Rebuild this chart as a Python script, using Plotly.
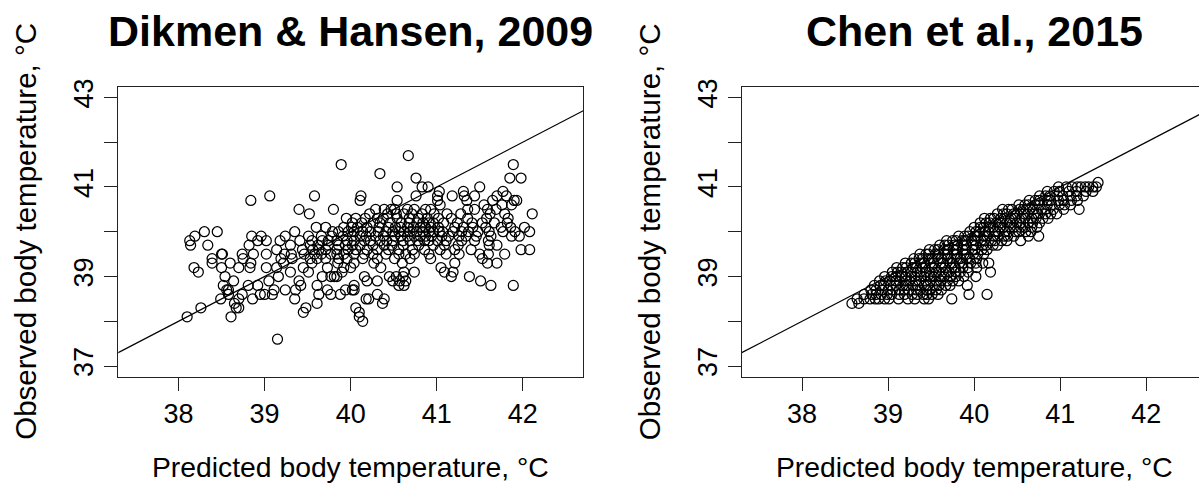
import plotly.graph_objects as go

W, H = 1199, 484
FONT = "Liberation Sans, Arial, Helvetica, sans-serif"

left_title = "Dikmen & Hansen, 2009"
right_title = "Chen et al., 2015"
x_label = "Predicted body temperature, °C"
y_label = "Observed body temperature, °C"
x_ticks = [38, 39, 40, 41, 42]
y_ticks = [37, 38, 39, 40, 41, 42, 43]
y_tick_text = ["37", "", "39", "", "41", "", "43"]

# Dikmen & Hansen 2009: observed levels and predicted values at each level
dh_obs_levels = [41.7, 41.5, 41.3, 41.2, 41.0, 40.9, 40.8, 40.7, 40.6, 40.5, 40.4, 40.3, 40.2, 40.1, 40.0,
                 39.9, 39.8, 39.7, 39.6, 39.5, 39.4, 39.3, 39.2, 39.1, 39.0, 38.9, 38.8, 38.7, 38.6, 38.5,
                 38.4, 38.3, 38.2, 38.1, 38.0, 37.6]
dh_pred_by_level = [
    [40.67],
    [39.89, 41.89],
    [40.34],
    [40.76, 41.85, 41.98],
    [40.54, 40.83, 40.90, 41.50],
    [41.03, 41.31, 41.77],
    [39.06, 39.58, 40.12, 40.76, 41.01, 41.18, 41.32, 41.44, 41.70, 41.81],
    [38.84, 40.11, 40.54, 41.01, 41.35, 41.65, 41.90, 41.93],
    [41.04, 41.55, 41.76, 41.87],
    [39.40, 39.80, 40.29, 40.39, 40.47, 40.51, 40.66, 40.74, 40.87, 40.93, 41.36, 41.44, 41.59, 41.69],
    [39.52, 40.22, 40.43, 40.53, 40.62, 40.71, 40.83, 40.97, 41.12, 41.28, 41.62, 41.79, 42.11],
    [39.95, 40.06, 40.17, 40.31, 40.38, 40.54, 40.68, 40.79, 40.89, 41.02, 41.17, 41.36, 41.58, 41.83],
    [40.02, 40.13, 40.26, 40.34, 40.46, 40.59, 40.68, 40.77, 40.84, 40.91, 40.96, 41.08, 41.24, 41.41,
     41.53, 41.67, 41.82],
    [39.60, 39.71, 39.92, 40.01, 40.08, 40.19, 40.33, 40.44, 40.52, 40.58, 40.66, 40.73, 40.81, 40.87,
     40.93, 41.02, 41.21, 41.31, 41.42, 41.57, 41.75, 41.86, 42.02],
    [38.30, 38.45, 39.35, 39.79, 39.86, 39.97, 40.04, 40.14, 40.23, 40.32, 40.41, 40.49, 40.56, 40.62,
     40.69, 40.77, 40.84, 40.91, 40.96, 41.03, 41.07, 41.19, 41.29, 41.37, 41.48, 41.61, 41.77, 41.91,
     42.08],
    [38.19, 38.85, 38.96, 39.24, 39.51, 39.66, 39.78, 39.91, 40.02, 40.11, 40.18, 40.29, 40.38, 40.51,
     40.58, 40.66, 40.74, 40.81, 40.87, 40.94, 41.06, 41.14, 41.26, 41.34, 41.46, 41.63, 41.87, 41.96],
    [38.13, 38.92, 39.02, 39.18, 39.41, 39.55, 39.67, 39.74, 39.84, 39.96, 40.04, 40.16, 40.23, 40.34,
     40.42, 40.49, 40.61, 40.69, 40.78, 40.86, 40.91, 41.01, 41.11, 41.29, 41.44, 41.60],
    [38.14, 38.34, 38.82, 39.30, 39.53, 39.62, 39.74, 39.86, 39.94, 40.02, 40.11, 40.26, 40.39, 40.48,
     40.61, 40.79, 40.96, 41.09, 41.25, 41.61, 41.70],
    [39.14, 39.44, 39.56, 39.63, 39.71, 39.84, 39.97, 40.06, 40.19, 40.31, 40.44, 40.56, 40.72, 40.86,
     41.04, 41.21, 41.40, 41.98, 42.08],
    [38.50, 38.51, 38.74, 38.87, 39.02, 39.23, 39.31, 39.46, 39.58, 39.66, 39.77, 39.84, 39.92, 40.04,
     40.16, 40.26, 40.41, 40.56, 40.64, 40.74, 40.91, 41.11, 41.26, 41.50, 41.60, 41.79],
    [38.39, 38.75, 39.19, 39.32, 39.53, 39.61, 39.71, 39.86, 39.96, 40.14, 40.31, 40.51, 40.69, 40.93,
     41.53],
    [38.39, 38.60, 38.84, 39.22, 39.55, 39.85, 40.04, 40.27, 40.60, 41.21, 41.59, 41.70],
    [38.18, 38.50, 38.70, 38.83, 39.02, 39.14, 39.45, 39.73, 39.92, 40.00, 40.35, 41.05],
    [38.23, 39.30, 39.51, 39.90, 40.62, 40.74, 41.09, 41.19],
    [38.54, 39.16, 39.67, 39.77, 39.81, 39.84, 40.16, 40.45, 40.53, 40.61, 41.17, 41.38],
    [38.64, 39.05, 39.40, 40.19, 40.31, 40.49, 40.57, 40.64, 41.51],
    [38.52, 38.81, 38.92, 39.42, 39.61, 40.04, 40.56, 40.62, 41.63, 41.89],
    [38.56, 38.58, 39.11, 39.24, 39.36, 39.73, 39.94, 40.02, 40.04],
    [38.58, 38.74, 38.95, 39.00, 39.09, 39.63, 39.77, 39.88, 40.31],
    [38.49, 38.70, 38.86, 39.35, 40.18, 40.21, 40.39],
    [38.65, 39.61, 40.37],
    [38.26, 38.67, 38.70, 39.48, 40.06],
    [39.45, 40.10],
    [38.10, 38.61, 40.10],
    [40.14],
    [39.15],
]

# Chen et al. 2015: observed levels and predicted values at each level
chen_obs_levels = [38.4, 38.5, 38.6, 38.7, 38.8, 38.9, 39.0, 39.1, 39.2, 39.3, 39.4, 39.5, 39.6, 39.7,
                   39.8, 39.9, 40.0, 40.1, 40.2, 40.3, 40.4, 40.5, 40.6, 40.7, 40.8, 40.9, 41.0, 41.1]
chen_pred_by_level = [
    [38.58, 38.66],
    [38.64, 38.72, 38.79, 38.85, 38.89, 38.96, 39.01, 39.12, 39.23, 39.31, 39.42, 39.47, 39.74],
    [38.72, 38.81, 38.86, 38.92, 38.99, 39.04, 39.13, 39.19, 39.28, 39.34, 39.41, 39.45, 39.51, 39.58, 39.94, 40.15],
    [38.80, 38.86, 38.93, 39.00, 39.05, 39.13, 39.19, 39.24, 39.33, 39.37, 39.45, 39.49, 39.56, 39.62],
    [38.84, 38.91, 38.95, 39.03, 39.09, 39.17, 39.21, 39.29, 39.34, 39.42, 39.46, 39.54, 39.59, 39.67, 39.72, 39.92],
    [38.90, 38.97, 39.02, 39.09, 39.13, 39.21, 39.25, 39.32, 39.36, 39.44, 39.49, 39.56, 39.61, 39.69, 39.75, 39.82],
    [38.96, 39.04, 39.09, 39.16, 39.20, 39.27, 39.31, 39.38, 39.42, 39.49, 39.53, 39.61, 39.65, 39.73, 39.79, 39.88, 40.02],
    [39.05, 39.11, 39.15, 39.23, 39.27, 39.34, 39.37, 39.44, 39.48, 39.56, 39.59, 39.67, 39.71, 39.79, 39.84, 39.93, 40.19],
    [39.10, 39.17, 39.21, 39.29, 39.33, 39.40, 39.43, 39.51, 39.54, 39.62, 39.66, 39.74, 39.78, 39.87, 39.93, 40.03],
    [39.20, 39.27, 39.31, 39.38, 39.42, 39.49, 39.53, 39.61, 39.64, 39.72, 39.75, 39.83, 39.87, 39.96, 40.02, 40.10, 40.17],
    [39.30, 39.36, 39.40, 39.47, 39.51, 39.58, 39.62, 39.69, 39.73, 39.80, 39.84, 39.91, 39.95, 40.03],
    [39.37, 39.44, 39.47, 39.55, 39.59, 39.66, 39.69, 39.77, 39.80, 39.88, 39.91, 39.99, 40.04, 40.11],
    [39.48, 39.54, 39.58, 39.65, 39.69, 39.76, 39.79, 39.87, 39.90, 39.98, 40.01, 40.09, 40.15],
    [39.60, 39.66, 39.70, 39.77, 39.81, 39.88, 39.91, 39.99, 40.02, 40.10, 40.14, 40.22, 40.27],
    [39.68, 39.75, 39.79, 39.86, 39.89, 39.97, 40.01, 40.08, 40.12, 40.20, 40.24, 40.32, 40.38, 40.54],
    [39.82, 39.89, 39.93, 40.01, 40.04, 40.11, 40.15, 40.23, 40.27, 40.35, 40.39, 40.46, 40.63, 40.75],
    [39.95, 40.02, 40.06, 40.13, 40.17, 40.24, 40.28, 40.36, 40.40, 40.48, 40.52, 40.60, 40.66],
    [40.00, 40.07, 40.11, 40.18, 40.22, 40.30, 40.34, 40.42, 40.46, 40.54, 40.59, 40.67, 40.73],
    [40.07, 40.14, 40.18, 40.26, 40.30, 40.38, 40.42, 40.50, 40.54, 40.63, 40.68, 40.76],
    [40.12, 40.19, 40.23, 40.31, 40.35, 40.43, 40.47, 40.55, 40.59, 40.67, 40.72, 40.80, 40.86],
    [40.27, 40.34, 40.38, 40.46, 40.50, 40.58, 40.62, 40.70, 40.74, 40.83, 40.89, 40.96],
    [40.33, 40.40, 40.44, 40.53, 40.57, 40.65, 40.69, 40.78, 40.83, 40.92, 41.04, 41.22],
    [40.52, 40.59, 40.63, 40.71, 40.76, 40.85, 40.90, 40.99, 41.05, 41.12],
    [40.64, 40.71, 40.76, 40.85, 40.89, 40.98, 41.04, 41.13, 41.20],
    [40.76, 40.83, 40.88, 40.97, 41.03, 41.12, 41.19, 41.27],
    [40.85, 40.93, 40.99, 41.10, 41.19, 41.30, 41.38],
    [40.98, 41.07, 41.14, 41.20, 41.24, 41.29, 41.33, 41.38, 41.42],
    [41.44],
]

identity_line = [37, 43]


def flatten(levels, preds):
    xs, ys = [], []
    for yv, row in zip(levels, preds):
        for xv in row:
            xs.append(xv)
            ys.append(yv)
    return xs, ys


dh_x, dh_y = flatten(dh_obs_levels, dh_pred_by_level)
ch_x, ch_y = flatten(chen_obs_levels, chen_pred_by_level)

# layout geometry (pixels)
L_LEFT, L_RIGHT = 118.3, 583.0
R_LEFT = 741.8
BOX_TOP, BOX_BOTTOM = 80.0, 375.0
XR = [37.3, 42.7]
PX_PER_X = (L_RIGHT - L_LEFT) / (XR[1] - XR[0])
XR2 = [37.3, 37.3 + (W - R_LEFT) / PX_PER_X]
YR = [36.76, 43.24]

marker = dict(symbol="circle-open", size=10, color="black", line=dict(width=1.25, color="black"))

fig = go.Figure()
fig.add_trace(go.Scatter(x=dh_x, y=dh_y, mode="markers", marker=marker, xaxis="x", yaxis="y",
                         showlegend=False, cliponaxis=True))
fig.add_trace(go.Scatter(x=identity_line, y=identity_line, mode="lines",
                         line=dict(color="black", width=1.2), xaxis="x", yaxis="y", showlegend=False))
fig.add_trace(go.Scatter(x=ch_x, y=ch_y, mode="markers", marker=marker, xaxis="x2", yaxis="y2",
                         showlegend=False, cliponaxis=True))
fig.add_trace(go.Scatter(x=identity_line, y=identity_line, mode="lines",
                         line=dict(color="black", width=1.2), xaxis="x2", yaxis="y2", showlegend=False))

tickfont = dict(family=FONT, size=27, color="black")
common_x = dict(showline=True, linecolor="#222222", linewidth=1.4, mirror=True, ticks="outside",
                ticklen=13, tickwidth=1.3, tickcolor="#222222", tickvals=x_ticks,
                ticktext=[str(t) for t in x_ticks], tickfont=tickfont, showgrid=False,
                zeroline=False, fixedrange=True)
common_y = dict(showline=True, linecolor="#222222", linewidth=1.4, ticks="outside",
                ticklen=13, tickwidth=1.3, tickcolor="#222222", tickvals=y_ticks,
                ticktext=y_tick_text, tickangle=-90, tickfont=tickfont, showgrid=False,
                zeroline=False, range=YR, fixedrange=True,
                domain=[1 - BOX_BOTTOM / H, 1 - BOX_TOP / H])

fig.update_layout(
    width=W, height=H, margin=dict(l=0, r=0, t=0, b=0),
    paper_bgcolor="white", plot_bgcolor="white",
    xaxis=dict(common_x, domain=[L_LEFT / W, L_RIGHT / W], range=XR, anchor="y"),
    yaxis=dict(common_y, mirror=True, anchor="x"),
    xaxis2=dict(common_x, domain=[R_LEFT / W, 1.0], range=XR2, anchor="y2"),
    yaxis2=dict(common_y, mirror=False, anchor="x2"),
)

xlabel_font = dict(family=FONT, size=28.3, color="black")
ylabel_font = dict(family=FONT, size=29.5, color="black")
title_font = dict(family=FONT, size=43, color="black")
centers = [(L_LEFT + L_RIGHT) / 2, R_LEFT + (L_RIGHT - L_LEFT) / 2]
ylab_x = [26.0, 26.0 + (R_LEFT - L_LEFT)]
titles = [left_title, right_title]
for cx, yx, ttl in zip(centers, ylab_x, titles):
    fig.add_annotation(x=cx / W, y=1 - 467 / H, xref="paper", yref="paper", text=x_label,
                       showarrow=False, font=xlabel_font, xanchor="center", yanchor="middle")
    fig.add_annotation(x=yx / W, y=1 - (BOX_TOP + BOX_BOTTOM) / 2 / H, xref="paper", yref="paper",
                       text=y_label, textangle=-90, showarrow=False, font=ylabel_font,
                       xanchor="center", yanchor="middle")
    fig.add_annotation(x=cx / W, y=1 - 23 / H, xref="paper", yref="paper", text="<b>" + ttl + "</b>",
                       showarrow=False, font=title_font, xanchor="center", yanchor="middle")

fig.write_html("out.html")
